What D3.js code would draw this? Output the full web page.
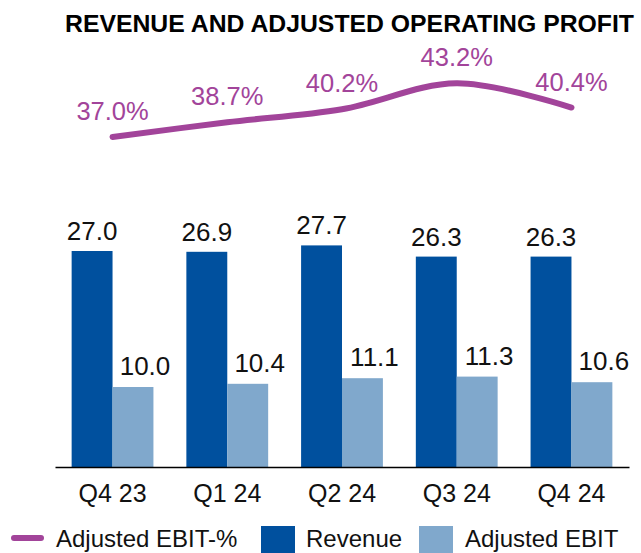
<!DOCTYPE html>
<html lang="en">
<head>
<meta charset="UTF-8">
<title>Revenue and adjusted operating profit</title>
<script src="https://d3js.org/d3.v7.min.js"></script>
<style>
    body { margin: 0; background: #fff; }
    svg { display: block; font-family: "Liberation Sans", Arial, sans-serif; }
</style>
</head>
<body>
<div id="chart"></div>
<script>
    const quarters = ['Q4 23', 'Q1 24', 'Q2 24', 'Q3 24', 'Q4 24'];
    const revenue = [27.0, 26.9, 27.7, 26.3, 26.3];
    const adjEbit = [10.0, 10.4, 11.1, 11.3, 10.6];
    const ebitPct = [37.0, 38.7, 40.2, 43.2, 40.4];
    const seriesNames = ['Revenue', 'Adjusted EBIT'];

    const colors = { rev: '#00509e', ebit: '#80a8cc', pct: '#a2449a' };
    const width = 641, height = 553;

    const svg = d3.select('#chart').append('svg')
        .attr('width', width)
        .attr('height', height);

    // title
    svg.append('text')
        .attr('x', 65)
        .attr('y', 32)
        .attr('font-size', 24)
        .attr('font-weight', 'bold')
        .attr('textLength', 569)
        .attr('lengthAdjust', 'spacingAndGlyphs')
        .attr('fill', '#000')
        .text('REVENUE AND ADJUSTED OPERATING PROFIT');

    const x = d3.scaleBand()
        .domain(quarters)
        .range([55, 629])
        .paddingInner(0.287)
        .paddingOuter(0.145);

    const x1 = d3.scaleBand()
        .domain(seriesNames)
        .range([0, x.bandwidth()]);

    const y = d3.scaleLinear().domain([0, 30]).range([467, 227]);
    const yPct = d3.scaleLinear().domain([0, 50]).range([457, 24.5]);

    const rows = quarters.map((q, i) => ({ q, rev: revenue[i], ebit: adjEbit[i], pct: ebitPct[i] }));

    const g = svg.selectAll('g.grp')
        .data(rows)
        .join('g')
        .attr('class', 'grp')
        .attr('transform', d => `translate(${x(d.q)},0)`);

    g.append('rect')
        .attr('x', x1('Revenue'))
        .attr('width', x1.bandwidth())
        .attr('y', d => y(d.rev))
        .attr('height', d => y(0) - y(d.rev))
        .attr('fill', colors.rev);

    g.append('rect')
        .attr('x', x1('Adjusted EBIT'))
        .attr('width', x1.bandwidth())
        .attr('y', d => y(d.ebit))
        .attr('height', d => y(0) - y(d.ebit))
        .attr('fill', colors.ebit);

    g.append('text')
        .attr('x', x1('Revenue') + x1.bandwidth() / 2)
        .attr('y', d => y(d.rev) - 11)
        .attr('text-anchor', 'middle')
        .attr('font-size', 26)
        .attr('fill', '#111')
        .text(d => d.rev.toFixed(1));

    g.append('text')
        .attr('x', x1('Adjusted EBIT') + x1.bandwidth() / 2 + 12)
        .attr('y', d => y(d.ebit) - 12)
        .attr('text-anchor', 'middle')
        .attr('font-size', 26)
        .attr('fill', '#111')
        .text(d => d.ebit.toFixed(1));

    // x axis
    svg.append('g')
        .attr('transform', `translate(0,${y(0)})`)
        .call(d3.axisBottom(x).tickSize(0).tickSizeOuter(0).tickPadding(17))
        .call(a => a.select('.domain').attr('stroke', '#000').attr('stroke-width', 1.6))
        .call(a => a.selectAll('text')
            .attr('font-size', 25)
            .attr('fill', '#111')
            .attr('font-family', '"Liberation Sans", Arial, sans-serif'));

    // EBIT-% line
    const cx = d => x(d.q) + x.bandwidth() / 2;
    const line = d3.line()
        .x(cx)
        .y(d => yPct(d.pct))
        .curve(d3.curveCatmullRom.alpha(0.5));

    svg.append('path')
        .datum(rows)
        .attr('d', line)
        .attr('fill', 'none')
        .attr('stroke', colors.pct)
        .attr('stroke-width', 6)
        .attr('stroke-linecap', 'round');

    svg.selectAll('text.pct')
        .data(rows)
        .join('text')
        .attr('class', 'pct')
        .attr('x', cx)
        .attr('y', d => yPct(d.pct) - 17)
        .attr('text-anchor', 'middle')
        .attr('font-size', 25.5)
        .attr('fill', colors.pct)
        .text(d => d.pct.toFixed(1) + '%');

    // legend
    const legend = svg.append('g').attr('font-size', 24).attr('fill', '#111');
    legend.append('line')
        .attr('x1', 14).attr('x2', 41)
        .attr('y1', 538).attr('y2', 538)
        .attr('stroke', colors.pct)
        .attr('stroke-width', 6)
        .attr('stroke-linecap', 'round');
    legend.append('text').attr('x', 56).attr('y', 547).text('Adjusted EBIT-%');
    legend.append('rect').attr('x', 261).attr('y', 526).attr('width', 34).attr('height', 34).attr('fill', colors.rev);
    legend.append('text').attr('x', 306).attr('y', 547).text('Revenue');
    legend.append('rect').attr('x', 419).attr('y', 526).attr('width', 34).attr('height', 34).attr('fill', colors.ebit);
    legend.append('text').attr('x', 465).attr('y', 547).text('Adjusted EBIT');
</script>
</body>
</html>
